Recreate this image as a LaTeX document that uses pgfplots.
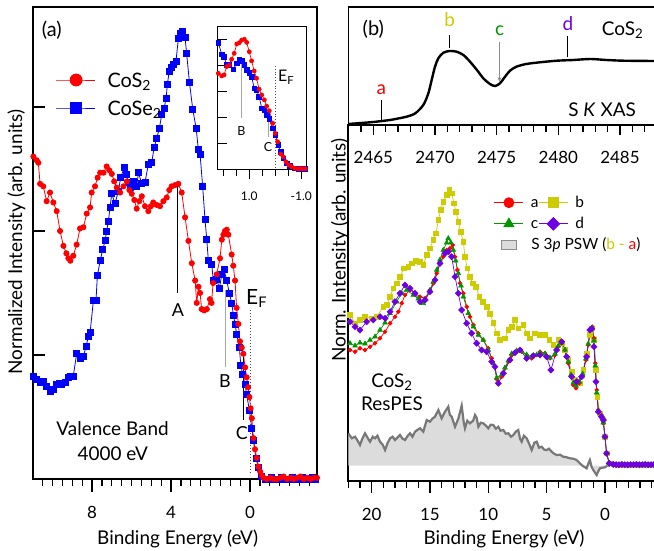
\documentclass[border=0pt]{standalone}
\usepackage{pgfplots}
\pgfplotsset{compat=1.18}
\usetikzlibrary{arrows.meta}
\usepackage{fontspec}
\setmainfont{Lato}
\definecolor{cred}{RGB}{255,0,0}
\definecolor{cblue}{RGB}{0,0,255}
\definecolor{cyel}{RGB}{204,204,0}
\definecolor{cgreen}{RGB}{0,150,0}
\definecolor{cpurp}{RGB}{110,0,225}
\definecolor{pline}{RGB}{120,120,120}
\definecolor{pfill}{RGB}{220,220,220}
\newcommand{\fs}[1]{\fontsize{#1}{#1}\selectfont}

\pgfplotstableread{
x y
10.97 2.60
10.80 2.57
10.72 2.55
10.63 2.38
10.47 2.36
10.30 2.24
10.13 2.31
9.96 2.23
9.79 2.16
9.62 2.00
9.45 1.88
9.30 1.82
9.20 1.78
9.10 1.76
8.95 1.80
8.78 1.89
8.61 2.02
8.44 2.03
8.27 2.14
8.10 2.19
8.02 2.31
7.85 2.36
7.72 2.43
7.59 2.47
7.42 2.47
7.26 2.52
7.13 2.49
7.00 2.46
6.88 2.40
6.75 2.35
6.58 2.31
6.41 2.36
6.24 2.40
6.11 2.33
5.99 2.30
5.86 2.25
5.74 2.18
5.61 2.24
5.48 2.28
5.32 2.20
5.15 2.16
5.02 2.20
4.90 2.23
4.73 2.21
4.56 2.20
4.39 2.24
4.22 2.27
4.09 2.33
3.97 2.36
3.80 2.37
3.63 2.38
3.46 2.31
3.29 2.11
3.12 1.92
2.95 1.74
2.78 1.60
2.70 1.42
2.61 1.55
2.53 1.50
2.45 1.37
2.32 1.36
2.19 1.37
2.03 1.45
1.95 1.42
1.87 1.58
1.69 1.65
1.52 1.78
1.43 1.93
1.35 1.97
1.27 2.00
1.18 2.01
1.10 1.97
0.93 1.81
0.85 1.72
0.76 1.60
0.68 1.38
0.59 1.25
0.51 1.11
0.42 1.06
0.34 1.01
0.25 0.90
0.17 0.82
0.10 0.74
0.03 0.66
-0.03 0.57
-0.09 0.49
-0.17 0.33
-0.25 0.24
-0.34 0.17
-0.42 0.10
-0.51 0.06
-0.60 0.03
-0.68 0.01
-0.85 0.00
-1.02 0.01
-1.19 0.00
-1.36 0.00
-1.53 0.01
-1.70 0.02
-1.87 0.00
-2.04 0.01
-2.21 0.00
-2.38 0.01
-2.55 0.02
-2.72 0.00
-2.89 0.01
-3.06 0.00
-3.23 0.01
-3.39 0.01
}\cos

\pgfplotstableread{
x y
10.97 0.83
10.80 0.80
10.63 0.78
10.46 0.79
10.30 0.75
10.13 0.71
9.96 0.72
9.79 0.76
9.66 0.77
9.53 0.76
9.37 0.78
9.20 0.82
9.08 0.83
8.95 0.83
8.78 1.01
8.61 0.97
8.44 0.99
8.30 1.07
8.19 1.15
8.10 1.18
7.93 1.44
7.80 1.44
7.73 1.64
7.59 1.76
7.46 1.85
7.34 1.92
7.26 2.00
7.17 2.08
7.09 2.19
7.00 2.30
6.84 2.22
6.67 2.32
6.55 2.43
6.38 2.51
6.24 2.46
6.16 2.39
6.04 2.35
5.91 2.40
5.74 2.36
5.65 2.47
5.48 2.38
5.32 2.39
5.15 2.54
4.98 2.55
4.86 2.67
4.72 2.75
4.59 2.83
4.47 2.94
4.35 2.99
4.25 3.07
4.19 3.18
4.09 3.29
3.97 3.32
3.88 3.34
3.75 3.37
3.63 3.55
3.51 3.59
3.41 3.61
3.29 3.56
3.21 3.43
3.07 3.20
2.90 2.98
2.73 2.83
2.62 2.66
2.53 2.62
2.40 2.36
2.28 2.09
2.19 1.93
2.11 1.76
1.94 1.73
1.86 1.60
1.69 1.61
1.55 1.54
1.43 1.65
1.32 1.69
1.18 1.60
1.05 1.50
0.93 1.42
0.84 1.32
0.76 1.25
0.68 1.17
0.54 1.06
0.47 0.92
0.37 0.84
0.25 0.76
0.17 0.68
0.03 0.55
-0.09 0.41
-0.17 0.31
-0.30 0.17
-0.42 0.09
-0.59 0.02
-0.76 0.00
-0.93 0.00
-1.10 0.01
-1.27 0.00
-1.44 0.00
-1.61 0.01
-1.78 0.00
-1.95 0.00
-2.12 0.01
-2.29 0.00
-2.46 0.00
-2.63 0.01
-2.80 0.00
-2.97 0.00
-3.14 0.01
-3.31 0.00
}\cose

\pgfplotstableread{
x y
2.19 3.69
2.06 3.59
1.97 3.63
1.87 3.95
1.77 4.01
1.68 4.23
1.58 4.46
1.48 4.82
1.38 4.87
1.29 4.97
1.19 5.00
1.10 4.88
1.00 4.52
0.91 4.17
0.81 3.78
0.72 3.50
0.62 3.08
0.52 2.86
0.42 2.67
0.33 2.43
0.23 2.25
0.10 1.77
0.00 1.38
-0.09 1.06
-0.21 0.59
-0.31 0.48
-0.41 0.29
-0.51 0.17
-0.63 0.10
-0.76 0.04
-0.86 0.02
-0.96 0.03
-1.06 0.02
-1.16 0.02
}\icos

\pgfplotstableread{
x y
2.19 4.87
2.06 4.42
1.97 4.33
1.87 4.01
1.77 4.01
1.62 3.85
1.48 4.08
1.38 4.20
1.29 4.18
1.19 4.01
1.10 3.82
1.00 3.72
0.91 3.56
0.81 3.12
0.72 3.05
0.62 2.79
0.52 2.35
0.42 2.28
0.33 2.09
0.23 1.93
0.10 1.58
0.00 1.32
-0.12 0.93
-0.21 0.68
-0.31 0.42
-0.44 0.23
-0.57 0.13
-0.76 0.04
-0.90 0.02
-1.05 0.02
-1.16 0.02
}\icose

\pgfplotstableread{
x y
2462.97 1
2464.0 2
2465.0 3
2466.35 5
2467.0 6.5
2467.7 8.3
2468.4 11.7
2469.05 20
2469.46 31.7
2469.73 45
2470.0 58.3
2470.27 66.7
2470.68 72.3
2471.2 74
2471.76 73.3
2472.3 70
2472.84 63.3
2473.4 55
2473.92 46.7
2474.46 41
2474.87 39
2475.27 41.7
2475.68 48.3
2476.08 54.3
2476.6 58.3
2477.4 61
2478.5 62.7
2479.9 64.3
2481.2 65
2482.6 66
2483.9 65
2485.3 64.3
2487.84 64
}\xas

\pgfplotstableread{
x y
21.85 165.7
21.4 157.4
21.0 160.7
20.57 164
20.0 162.4
19.57 164
19.0 174
18.7 175.7
18.42 184
18.14 192.4
17.85 197.4
17.57 204
17.22 212.4
16.85 214
16.56 217.4
16.2 220
15.85 219
15.57 215.7
15.28 225.7
15.0 232.4
14.71 240.7
14.48 247.4
14.28 260.7
14.08 270.7
13.86 279
13.57 285.7
13.34 290.7
13.14 287.4
12.94 277.4
12.77 269
12.57 259
12.37 249
12.14 239
12.0 224
11.8 212.4
11.57 204
11.34 197.4
11.05 194
10.77 184
10.48 179
10.14 174
9.85 167
9.57 158
9.28 147.4
9.0 140.7
8.57 142.4
8.28 150.7
8.0 154
7.71 160.7
7.43 152.4
7.0 155.7
6.71 147.4
6.43 142.4
6.0 147.4
5.57 145.7
5.14 145.7
4.77 140.7
4.43 135.7
4.0 140.7
3.71 137.4
3.43 130.7
3.14 120.7
2.85 109
2.57 100.7
2.14 97.4
1.86 110.7
1.57 127.4
1.29 145.7
1.14 152.4
0.94 140.7
0.77 110.7
0.66 84
0.43 67.4
0.14 60.7
0.0 44
-0.14 27.4
-0.37 17.4
-0.71 16.4
-0.95 16.2
-1.2 15.8
-1.45 16.3
-1.7 16.0
-1.95 15.9
-2.2 16.3
-2.45 16.0
-2.7 15.8
-2.95 16.2
-3.2 16.0
-3.45 15.9
-3.7 16.2
-3.95 16.0
-4.2 15.9
}\sb

\pgfplotstableread{
x y
21.85 130.7
21.42 129
21.0 132.4
20.57 130.7
20.14 134
19.71 137.4
19.28 142.4
18.85 149
18.42 157.4
18.0 164
17.71 169
17.42 177.4
17.14 185.7
16.71 190.7
16.28 187.4
15.85 184
15.42 182.4
15.0 190.7
14.71 197.4
14.42 207.4
14.14 217.4
13.86 224
13.57 230.7
13.28 232.4
13.05 235.7
12.85 224
12.65 210.7
12.42 197.4
12.14 187.4
11.85 174
11.57 164
11.28 155.7
10.85 147.4
10.43 140.7
10.0 132.4
9.71 122.4
9.43 114
9.28 101.5
8.85 104
8.57 112.4
8.28 119
8.0 125.7
7.57 129
7.14 129
6.71 125.7
6.28 122.4
5.85 125.7
5.57 129
5.14 127.4
4.71 122.4
4.28 125.7
4.0 134
3.71 137.4
3.43 130.7
3.14 117.4
2.91 104
2.71 95.7
2.48 92.4
2.2 97.4
1.91 105.7
1.63 120.7
1.43 135.7
1.23 150.7
1.09 154
0.94 142.4
0.83 117.4
0.71 90.7
0.57 70.7
0.29 65.7
0.14 57.4
0.0 44
-0.14 27.4
-0.37 17.4
-0.71 16.4
-0.95 16.0
-1.2 16.3
-1.45 15.9
-1.7 16.2
-1.95 16.0
-2.2 15.8
-2.45 16.3
-2.7 16.0
-2.95 15.9
-3.2 16.2
-3.45 16.0
-3.7 15.8
-3.95 16.2
-4.2 16.0
}\sa

\pgfplotstableread{
x y
21.85 137.4
21.42 135
21.0 138
20.57 137
20.14 140.7
19.71 144
19.28 150.7
18.85 158
18.42 167.4
17.85 179
17.42 187.4
17.0 190.7
16.43 185.7
16.0 182
15.57 177.4
15.0 190.7
14.71 199
14.42 210.7
14.14 221
13.86 230.7
13.57 238
13.43 242.4
13.2 238
13.0 230.7
12.8 220
12.57 207.4
12.34 195
12.14 184
11.71 167.4
11.28 154
10.85 145.7
10.43 140.7
10.0 130.7
9.57 117.4
9.28 103
8.85 106
8.57 113
8.28 120
8.0 127
7.57 130
7.14 129.5
6.71 126
6.28 124
5.85 126
5.57 128
5.14 127
4.71 123
4.28 127
4.0 135
3.71 138
3.43 131
3.14 119
2.91 106
2.71 98
2.48 95
2.2 99
1.91 107
1.63 122
1.43 137
1.23 151.5
1.09 153
0.94 140
0.83 115
0.71 88
0.57 70
0.29 64
0.14 58
0.0 44
-0.14 27.4
-0.37 17.4
-0.71 16.4
-0.95 16.1
-1.2 16.0
-1.45 16.2
-1.7 15.9
-1.95 16.1
-2.2 16.0
-2.45 15.9
-2.7 16.2
-2.95 16.0
-3.2 15.9
-3.45 16.1
-3.7 16.0
-3.95 15.9
-4.2 16.1
}\sc

\pgfplotstableread{
x y
21.85 159
21.42 154
21.0 150.7
20.43 159
19.86 160.7
19.28 164
18.85 162.4
18.42 169
18.0 179
17.57 187.4
17.14 195.7
16.71 192.4
16.28 187.4
15.85 179
15.42 180.7
15.0 189
14.57 200.7
14.14 217.4
13.71 227.4
13.43 229
13.14 224
12.85 204
12.57 187.4
12.28 170.7
11.85 157.4
11.43 147.4
11.0 137.4
10.57 130.7
10.14 129
9.71 119
9.43 114
9.14 97.4
8.71 107.4
8.14 120.7
7.71 128
7.28 130.7
6.71 122.4
6.14 125
5.57 125.7
5.0 124
4.63 110.7
4.14 130.7
3.71 139
3.28 124
2.85 104
2.43 99
2.0 104
1.57 124
1.29 150.7
1.14 152
0.94 134
0.77 99
0.57 69
0.3 64
0.14 60.7
0.0 44
-0.14 27.4
-0.37 17.4
-0.71 16.4
-0.95 16.0
-1.2 15.9
-1.45 16.2
-1.7 16.0
-1.95 15.8
-2.2 16.1
-2.45 16.0
-2.7 16.2
-2.95 15.9
-3.2 16.0
-3.45 16.2
-3.7 15.9
-3.95 16.0
-4.2 16.1
}\sd

\pgfplotstableread{
x y
22.0 15
22.0 47.4
21.7 42.4
21.42 44
21.2 40
21.0 35.7
20.8 42
20.57 47.4
20.35 43
20.14 39
19.9 44
19.71 42.4
19.5 45
19.28 39
19.05 36
18.85 30.7
18.62 38
18.42 42.4
18.2 44
18.0 40.7
17.8 43
17.57 45.7
17.35 42
17.14 40.7
16.9 45
16.71 47.4
16.5 44
16.28 49
16.05 51
15.85 52.4
15.57 49
15.28 60.7
15.0 59
14.8 62
14.57 64
14.28 70.7
14.0 62.4
13.71 69
13.43 74
13.3 66
13.14 64
12.85 54
12.57 62
12.28 75
12.1 58
12.0 52.4
11.8 60
11.57 57.4
11.3 60
11.14 65.7
11.0 63
10.85 54
10.65 58
10.43 57.4
10.2 55
10.0 52.4
9.8 56
9.57 55.7
9.35 52
9.14 54
8.95 50
8.71 50.7
8.5 47
8.28 47.4
8.05 44
7.85 45.7
7.65 49
7.43 50.7
7.28 42
7.14 39
6.95 45
6.71 42.4
6.5 37
6.28 30.7
6.05 38
5.85 39
5.65 33
5.43 34
5.2 31
5.0 30.7
4.8 32
4.57 29
4.35 27
4.14 25.7
3.85 26
3.57 24
3.3 23.5
3.0 22.4
2.7 22
2.43 20.7
2.2 18
2.0 15.7
1.8 14
1.57 12.4
1.43 17
1.29 20.7
1.15 14
1.0 10.7
0.85 8
0.71 5.7
0.55 10
0.43 12.4
0.2 13
0.0 13.4
-0.2 15
-0.43 15.7
-0.8 15.5
-1.5 15.5
-2.5 15.5
-3.5 15.5
-4.29 15.5
-4.29 15
}\psw

\begin{document}
\begin{tikzpicture}
\useasboundingbox (0bp,0bp) rectangle (654bp,-551bp);

% ---------------- panel (a) ----------------
\begin{axis}[
  at={(33bp,-7bp)}, anchor=north west, scale only axis,
  width=284bp, height=472bp,
  x dir=reverse, xmin=-3.39, xmax=10.99, ymin=0, ymax=3.806,
  xtick={0,4,8}, xticklabels={0,4,8}, minor xtick={-3,-2.5,...,10.5},
  ytick={1,2,3}, yticklabels={},
  xtick pos=lower, ytick pos=left, tick align=outside,
  major tick length=12.5bp, minor tick length=7bp,
  ytick style={xshift=12.5bp},
  every tick/.style={black, line width=1.3bp},
  axis line style={line width=1.6bp},
  xticklabel style={font=\fs{17}, yshift=-11bp},
  xlabel={Binding Energy (eV)},
  ylabel={Normalized Intensity (arb. units)},
  label style={font=\fs{19}},
  xlabel style={at={(axis description cs:0.5095,-0.1377)}, anchor=base},
  ylabel style={at={(axis description cs:-0.0387,0.502)}, anchor=base},
  legend image code/.code={\draw[mark repeat=2,mark phase=2,#1] plot coordinates {(0bp,0bp) (20bp,0bp) (39bp,0bp)};},
  legend style={draw=none, fill=none, inner sep=0pt, outer sep=0pt,
    at={(0.080,0.8712)}, anchor=north west, row sep=3.6bp, font=\fs{20},
    nodes={inner sep=0pt, text height=19.4bp, text depth=5bp},
    /tikz/every odd column/.append style={column sep=12bp}},
  legend cell align=left,
]
\addplot[cblue, line width=0.8bp, mark=square*, mark size=3bp, forget plot] table {\cose};
\addplot[cred, line width=0.8bp, mark=*, mark size=2.6bp, forget plot] table {\cos};
\addlegendimage{cred, line width=0.8bp, mark=*, mark size=6bp}
\addlegendentry{CoS\textsubscript{2}}
\addlegendimage{cblue, line width=0.8bp, mark=square*, mark size=5.5bp}
\addlegendentry{CoSe\textsubscript{2}}
\draw[black, line width=1bp] (axis cs:3.67,2.387) -- (axis cs:3.67,1.5);
\node[font=\fs{18}] at (axis cs:3.65,1.363) {A};
\draw[black!35, line width=1bp] (axis cs:1.25,1.524) -- (axis cs:1.25,0.903);
\node[font=\fs{18}] at (axis cs:1.266,0.793) {B};
\draw[black, line width=1bp] (axis cs:0.339,0.984) -- (axis cs:0.339,0.476);
\node[font=\fs{18}] at (axis cs:0.42,0.371) {C};
\draw[black!70, dotted, line width=1bp] (axis cs:0,1.363) -- (axis cs:0,0.048);
\node[font=\fs{21}, anchor=base west, inner sep=0pt] at (axis cs:0.2025,1.411) {E\textsubscript{F}};
\node[font=\fs{19}] at (axis cs:6.96,0.403) {Valence Band};
\node[font=\fs{19}] at (axis cs:6.95,0.2016) {4000 eV};
\node[font=\fs{20}] at (axis cs:10.04,3.615) {(a)};
\end{axis}

% ---------------- inset ----------------
\begin{axis}[
  at={(217.3bp,-26bp)}, anchor=north west, scale only axis,
  width=89.4bp, height=143.3bp,
  x dir=reverse, xmin=-1.21, xmax=2.23, ymin=0, ymax=5.51,
  xtick={-1,1}, xticklabels={-1.0,1.0}, minor xtick={-1,-0.5,...,2},
  ytick={1,2,3,4,5}, yticklabels={},
  xtick pos=lower, ytick pos=left, tick align=outside,
  major tick length=10bp, minor tick length=6.5bp,
  ytick style={xshift=10bp},
  every tick/.style={black, line width=1bp},
  axis line style={line width=1bp},
  xticklabel style={font=\fs{12}, yshift=-9bp},
  axis background/.style={fill=white},
]
\addplot[cblue, line width=0.7bp, mark=square*, mark size=2.3bp] table {\icose};
\addplot[cred, line width=0.7bp, mark=*, mark size=2bp] table {\icos};
\draw[black!35, line width=0.8bp] (axis cs:1.292,4.088) -- (axis cs:1.292,1.973);
\node[font=\fs{12.5}] at (axis cs:1.30,1.49) {B};
\draw[black!35, line width=0.8bp] (axis cs:0.269,1.83) -- (axis cs:0.269,1.23);
\node[font=\fs{12.5}] at (axis cs:0.28,0.838) {C};
\draw[black!70, dotted, line width=0.8bp] (axis cs:0,3.97) -- (axis cs:0,0);
\node[font=\fs{16}, anchor=base west, inner sep=0pt] at (axis cs:-0.104,3.358) {E\textsubscript{F}};
\end{axis}

% ---------------- panel (b) lower ----------------
\begin{axis}[
  at={(348.3bp,-125bp)}, anchor=north west, scale only axis,
  width=306.7bp, height=355.7bp,
  x dir=reverse, xmin=-4.29, xmax=22.0, ymin=0, ymax=355.7,
  xtick={0,5,10,15,20}, xticklabels={0,5,10,15,20}, minor xtick={-4,-3,...,22},
  ytick=\empty,
  xtick pos=lower, tick align=outside,
  major tick length=12.5bp, minor tick length=7.5bp,
  every tick/.style={black, line width=1.3bp},
  axis line style={line width=1.6bp},
  xticklabel style={font=\fs{17}, yshift=-11.6bp},
  xlabel={Binding Energy (eV)},
  ylabel={Norm. Intensity (arb. units)},
  label style={font=\fs{19}},
  xlabel style={at={(axis description cs:0.5077,-0.178)}, anchor=base},
  ylabel style={at={(axis description cs:-0.009,0.6486)}, anchor=base},
  legend image code/.code={\draw[mark repeat=2,mark phase=2,#1] plot coordinates {(0bp,0bp) (14.5bp,0bp) (29bp,0bp)};},
  legend style={draw=none, fill=none, inner sep=0pt, outer sep=0pt,
    at={(0.475,0.8052)}, anchor=north west, row sep=4.4bp, font=\fs{15.5},
    nodes={inner sep=0pt, text height=12.8bp, text depth=4bp},
    /tikz/every odd column/.append style={column sep=7bp}},
  legend columns=2, legend cell align=left,
]
\addplot[fill=pfill, draw=none, forget plot] table {\psw};
\addplot[pline, line width=2.2bp, forget plot, skip coords between index={0}{1}] table {\psw};
\addplot[cyel, line width=0.7bp, mark=square*, mark size=2.3bp, forget plot] table {\sb};
\addplot[cred, line width=0.7bp, mark=*, mark size=1.9bp, forget plot] table {\sa};
\addplot[cgreen, line width=0.7bp, mark=triangle*, mark size=2.6bp, forget plot] table {\sc};
\addplot[cpurp, line width=0.7bp, mark=square*, mark options={rotate=45}, mark size=2.1bp, forget plot] table {\sd};
\addlegendimage{cred, line width=0.8bp, mark=*, mark size=5bp}
\addlegendentry{a}
\addlegendimage{cyel, line width=0.8bp, mark=square*, mark size=5bp}
\addlegendentry{b}
\addlegendimage{cgreen, line width=0.8bp, mark=triangle*, mark size=5.8bp}
\addlegendentry{c}
\addlegendimage{cpurp, line width=0.8bp, mark=square*, mark options={rotate=45}, mark size=4.4bp}
\addlegendentry{d}
\addlegendimage{legend image code/.code={\draw[fill=pfill, draw=black!45, line width=1bp] (6.85bp,-4.65bp) rectangle (22.15bp,4.65bp);}}
\addlegendentry{\makebox[0pt][l]{S 3\textit{p} PSW (\textcolor{cyel}{b - }\textcolor{cred}{a})}}
\node[font=\fs{19}, anchor=base] at (axis cs:18.26,93.4) {CoS\textsubscript{2}};
\node[font=\fs{19}, anchor=base] at (axis cs:18.26,70.7) {ResPES};
\end{axis}

% ---------------- panel (b) XAS ----------------
\begin{axis}[
  at={(348.3bp,-7bp)}, anchor=north west, scale only axis,
  width=306.7bp, height=118bp,
  xmin=2462.97, xmax=2487.84, ymin=0, ymax=118,
  xtick={2465,2470,2475,2480,2485}, xticklabels={2465,2470,2475,2480,2485},
  minor xtick={2463,2464,2465,2466,2467,2468,2469,2470,2471,2472,2473,2474,2475,2476,2477,2478,2479,2480,2481,2482,2483,2484,2485,2486,2487},
  ytick=\empty,
  xtick pos=lower, tick align=outside,
  major tick length=10bp, minor tick length=6.5bp,
  every tick/.style={black, line width=1.3bp},
  axis line style={line width=1.6bp},
  xticklabel style={font=\fs{17}, yshift=-12.6bp},
]
\addplot[black, line width=2.4bp, smooth] table {\xas};
\node[font=\fs{20}] at (axis cs:2465.0,96) {(b)};
\node[font=\fs{19}, anchor=base west, inner sep=0pt] at (axis cs:2483.52,90) {CoS\textsubscript{2}};
\node[font=\fs{19}] at (axis cs:2483.55,15) {S \textit{K} XAS};
\node[font=\fs{19}, text=cred] at (axis cs:2465.65,35) {a};
\draw[black, line width=1bp] (axis cs:2465.65,25) -- (axis cs:2465.65,5);
\node[font=\fs{19}, text=cyel] at (axis cs:2471.18,105) {b};
\draw[black, line width=1bp] (axis cs:2471.17,90) -- (axis cs:2471.17,76.7);
\node[font=\fs{19}, text=cgreen] at (axis cs:2475.24,94.5) {c};
\draw[black!45, line width=0.8bp, -{Stealth[length=5bp,width=4bp]}] (axis cs:2475.23,83) -- (axis cs:2475.23,43);
\node[font=\fs{19}, text=cpurp] at (axis cs:2480.77,101) {d};
\draw[black, line width=1bp] (axis cs:2480.77,89) -- (axis cs:2480.77,67.7);
\end{axis}
\end{tikzpicture}
\end{document}
